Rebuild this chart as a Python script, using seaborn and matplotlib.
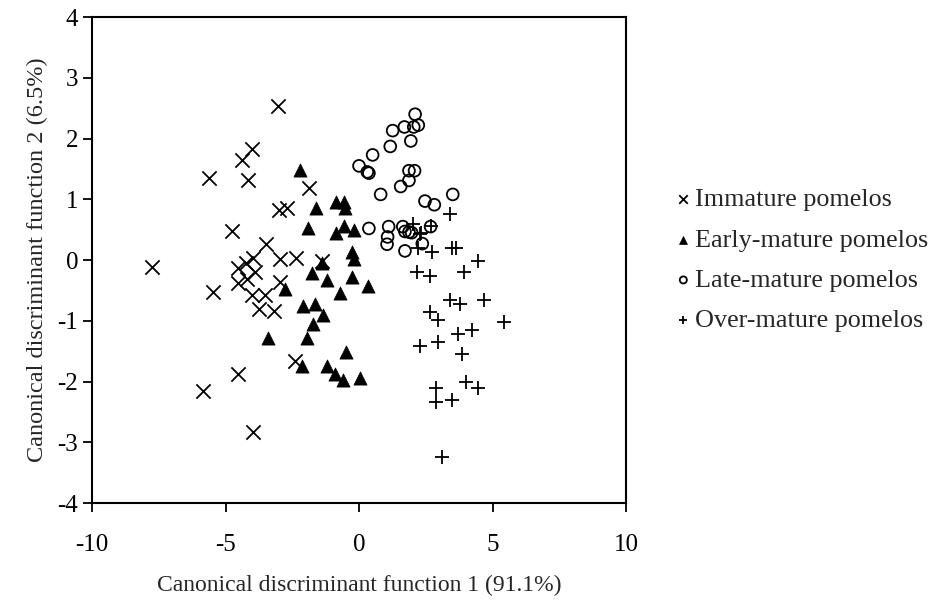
import matplotlib
matplotlib.use("Agg")
import matplotlib.pyplot as plt
import seaborn as sns
import pandas as pd

# Canonical discriminant scores (function 1, function 2)
immature_f1 = [-7.77, -5.6, -5.46, -5.83, -4.4, -4.02, -4.17, -4.77, -3.05, -1.86,
               -2.98, -2.69, -3.48, -3.96, -2.97, -2.35, -1.4, -4.54, -3.88, -4.55,
               -4.18, -2.97, -4.0, -3.52, -3.73, -3.2, -4.52, -2.4, -3.96, -4.25]
immature_f2 = [-0.12, 1.35, -0.52, -2.16, 1.65, 1.82, 1.32, 0.47, 2.53, 1.19,
               0.83, 0.86, 0.27, 0.03, 0.02, 0.04, -0.02, -0.13, -0.2, -0.37,
               -0.32, -0.36, -0.58, -0.57, -0.81, -0.84, -1.87, -1.67, -2.83, -0.05]

early_f1 = [-2.22, -1.61, -0.88, -0.56, -0.52, -1.91, -0.58, -0.2, -0.86, -0.27,
            -0.18, -1.4, -1.77, -1.19, -0.27, 0.34, -0.72, -2.76, -2.08, -1.63,
            -1.34, -1.71, -1.93, -3.42, -0.5, -2.15, -1.19, -0.9, -0.59, 0.05]
early_f2 = [1.48, 0.85, 0.96, 0.96, 0.86, 0.52, 0.56, 0.49, 0.44, 0.13,
            0.01, -0.05, -0.22, -0.33, -0.28, -0.43, -0.55, -0.47, -0.76, -0.72,
            -0.91, -1.06, -1.29, -1.29, -1.52, -1.74, -1.75, -1.87, -1.98, -1.94]

late_f1 = [2.1, 2.22, 2.05, 1.7, 1.26, 1.94, 1.17, 0.51, 0.0, 0.31,
           0.37, 1.87, 2.08, 1.87, 1.56, 0.81, 3.51, 2.47, 2.82, 0.37,
           1.11, 1.64, 2.68, 1.72, 1.87, 1.97, 1.07, 1.05, 2.37, 1.72]
late_f2 = [2.4, 2.22, 2.19, 2.19, 2.13, 1.96, 1.87, 1.73, 1.55, 1.45,
           1.43, 1.47, 1.47, 1.31, 1.21, 1.08, 1.08, 0.97, 0.91, 0.52,
           0.55, 0.55, 0.55, 0.47, 0.46, 0.45, 0.38, 0.26, 0.27, 0.15]

over_f1 = [3.4, 2.01, 2.69, 2.27, 2.33, 2.2, 2.72, 3.47, 3.64, 4.44,
           3.92, 2.17, 2.66, 3.41, 3.78, 4.67, 2.65, 2.95, 5.42, 3.72,
           4.22, 2.27, 2.95, 3.85, 4.0, 4.47, 2.88, 2.88, 3.47, 3.1]
over_f2 = [0.76, 0.59, 0.56, 0.43, 0.45, 0.2, 0.14, 0.2, 0.2, -0.02,
           -0.2, -0.2, -0.26, -0.65, -0.72, -0.65, -0.85, -0.99, -1.02, -1.21,
           -1.15, -1.42, -1.35, -1.55, -2.0, -2.11, -2.11, -2.34, -2.3, -3.25]

groups = ["Immature pomelos", "Early-mature pomelos", "Late-mature pomelos", "Over-mature pomelos"]

df = pd.concat([
    pd.DataFrame({"f1": immature_f1, "f2": immature_f2, "group": groups[0]}),
    pd.DataFrame({"f1": early_f1, "f2": early_f2, "group": groups[1]}),
    pd.DataFrame({"f1": late_f1, "f2": late_f2, "group": groups[2]}),
    pd.DataFrame({"f1": over_f1, "f2": over_f2, "group": groups[3]}),
])

sns.set_style("ticks")
plt.rcParams["font.family"] = ["Liberation Serif", "DejaVu Serif"]
plt.rcParams["axes.unicode_minus"] = False  # plain hyphens like the original

fig = plt.figure(figsize=(9.33, 6.01), dpi=100)
ax = fig.add_axes([0.0986, 0.163, 0.5724, 0.8087])

# unfilled and filled markers can't be mixed in one seaborn call, so one call per group
sns.scatterplot(data=df[df.group == groups[0]], x="f1", y="f2", marker="x", s=105,
                color="black", linewidth=1.3, label=groups[0], ax=ax)
sns.scatterplot(data=df[df.group == groups[1]], x="f1", y="f2", marker="^", s=90,
                color="black", edgecolor="black", linewidth=0.5, label=groups[1], ax=ax)
sns.scatterplot(data=df[df.group == groups[2]], x="f1", y="f2", marker="o", s=72,
                color="black", edgecolor="black", linewidth=1.3, label=groups[2], ax=ax)
ax.collections[-1].set_facecolor("none")
sns.scatterplot(data=df[df.group == groups[3]], x="f1", y="f2", marker="+", s=115,
                color="black", linewidth=1.3, label=groups[3], ax=ax)

ax.set_xlim(-10, 10)
ax.set_ylim(-4, 4)
ax.set_xticks([-10, -5, 0, 5, 10])
ax.set_yticks(range(-4, 5))
ax.tick_params(direction="out", length=6.5, width=1.3, labelsize=18, colors="black")
ax.tick_params(axis="x", pad=15.5)
ax.tick_params(axis="y", pad=3.5)
for sp in ax.spines.values():
    sp.set_visible(True)
    sp.set_linewidth(1.5)
    sp.set_color("black")

ax.set_xlabel("Canonical discriminant function 1 (91.1%)", fontsize=17, labelpad=14)
ax.set_ylabel("Canonical discriminant function 2 (6.5%)", fontsize=17.5, labelpad=7)

ax.legend(loc="center left", bbox_to_anchor=(1.073, 0.5), frameon=False, fontsize=18.8,
          markerscale=0.6, handlelength=0.6, handletextpad=0.15, labelspacing=0.65,
          borderaxespad=0)

fig.savefig("out.png", dpi=100)
